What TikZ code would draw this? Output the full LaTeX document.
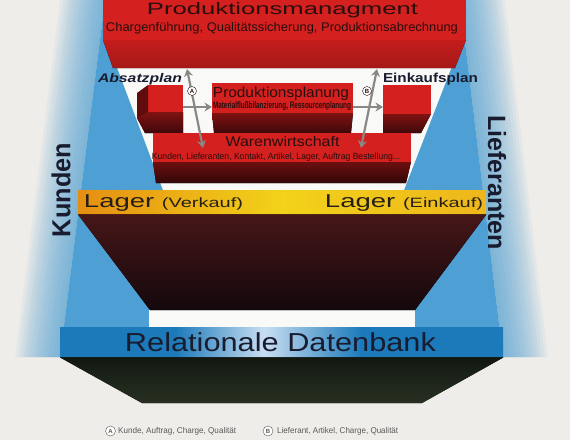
\documentclass[tikz,border=0pt]{standalone}
\usepackage{fontspec}
\setmainfont{Liberation Sans}
\usepackage{graphicx}
\usepackage{xcolor}
\usetikzlibrary{arrows.meta}
\definecolor{PaperGrey}{RGB}{239,237,233}
\definecolor{InnerWhite}{RGB}{249,249,248}
\definecolor{FrameBlue}{RGB}{78,160,212}
\definecolor{BaseBlue}{RGB}{28,122,186}
\definecolor{BaseGlow}{RGB}{200,222,242}
\definecolor{BoxRed}{RGB}{212,32,30}
\definecolor{BoxInk}{RGB}{40,14,14}
\definecolor{SideDark}{RGB}{96,12,12}
\definecolor{UnderTop}{RGB}{128,18,18}
\definecolor{UnderBottom}{RGB}{62,8,10}
\definecolor{PitTop}{RGB}{70,22,24}
\definecolor{PitDark}{RGB}{20,8,12}
\definecolor{FloorTop}{RGB}{18,24,16}
\definecolor{FloorDark}{RGB}{40,48,34}
\definecolor{LagerOrange}{RGB}{230,142,18}
\definecolor{LagerYellow}{RGB}{242,210,26}
\definecolor{LagerAmber}{RGB}{238,182,28}
\definecolor{InkNavy}{RGB}{24,28,46}
\definecolor{LagerInk}{RGB}{36,30,24}
\definecolor{ArrowGrey}{RGB}{136,136,132}
\definecolor{LegendGrey}{RGB}{90,90,90}
\pgfdeclarehorizontalshading{dbglow}{100bp}{color(0bp)=(BaseBlue); color(38bp)=(BaseBlue); color(48bp)=(BaseGlow); color(59bp)=(BaseBlue); color(100bp)=(BaseBlue)}
\newcommand{\fitw}[2]{\resizebox{#1}{\height}{#2}}

\begin{document}
\begin{tikzpicture}[x=1pt, y=-1pt]
    \tikzset{
        redface/.style={rectangle, fill=BoxRed, anchor=north west, inner sep=0pt, outer sep=0pt},
        under/.style={top color=UnderTop, bottom color=UnderBottom},
        txt/.style={anchor=base, inner sep=0pt, text=BoxInk},
        flow/.style={draw=ArrowGrey, line width=2.2pt, -{Stealth[length=7.5pt, width=9pt]}},
        twoway/.style={draw=ArrowGrey, line width=2.2pt,
            {Stealth[length=7.5pt, width=9pt]}-{Stealth[length=7.5pt, width=9pt]}},
        ringmark/.style={circle, draw=#1, fill=white, inner sep=0pt, minimum size=9pt,
            font=\fontsize{6}{6}\selectfont\bfseries, text=#1}
    }
    \useasboundingbox (0,0) rectangle (570,440);
    \fill[PaperGrey] (0,0) rectangle (570,440);
    \foreach \d in {3,6,...,45} {
        \fill[FrameBlue, fill opacity=0.07] (105,0) -- (105-\d,0) -- (60-\d,357) -- (60,357) -- cycle;
        \fill[FrameBlue, fill opacity=0.07] (460,0) -- (460+\d,0) -- (503+\d,357) -- (503,357) -- cycle;
    }
    \fill[FrameBlue] (105,0) -- (460,0) -- (503,357) -- (60,357) -- cycle;
    \fill[InnerWhite] (103,30) -- (466,30) -- (404,190) -- (163,190) -- cycle;
    \fill[InnerWhite] (149,309) rectangle (415,327);

    \node[redface, minimum width=363pt, minimum height=40pt] (pm) at (103,0) {};
    \fill[top color=BoxRed!92!black, bottom color=BoxRed!78!black]
        (pm.south west) -- (pm.south east) -- (455,68) -- (113,68) -- cycle;
    \node[redface, minimum width=35pt, minimum height=27pt] (lcube) at (148,85) {};
    \fill[SideDark] (137,93) -- (lcube.north west) -- (lcube.south west) -- (137,118) -- cycle;
    \fill[under] (137,118) -- (lcube.south west) -- (lcube.south east) -- (183,133) -- (145,133) -- cycle;
    \node[redface, minimum width=48pt, minimum height=29pt] (rcube) at (383,85) {};
    \fill[under] (rcube.south west) -- (rcube.south east) -- (421,133) -- (383,133) -- cycle;
    \node[redface, minimum width=141pt, minimum height=30pt] (pp) at (212,83) {};
    \fill[under] (pp.south west) -- (pp.south east) -- (351,133) -- (214,133) -- cycle;
    \node[redface, minimum width=258pt, minimum height=29pt] (ww) at (153,133) {};
    \fill[top color=UnderTop!85!black, bottom color=UnderBottom!80!black]
        (ww.south west) -- (ww.south east) -- (406,183) -- (156,183) -- cycle;

    \node[rectangle, anchor=north west, inner sep=0pt, minimum width=408pt, minimum height=24pt,
        left color=LagerOrange, right color=LagerAmber, middle color=LagerYellow] (lager) at (78,190) {};
    \fill[top color=PitTop, bottom color=PitDark]
        (lager.south west) -- (lager.south east) -- (415,310) -- (150,310) -- cycle;
    \node[rectangle, anchor=north west, inner sep=0pt, minimum width=443pt, minimum height=30pt,
        shade, shading=dbglow] (rdb) at (60,327) {};
    \fill[top color=FloorTop, bottom color=FloorDark]
        (rdb.south west) -- (rdb.south east) -- (422,403) -- (142,403) -- cycle;

    \node[txt, font=\fontsize{16.5}{18}\selectfont] (pmt) at (282.5,14) {\fitw{271pt}{Produktionsmanagment}};
    \node[txt, font=\fontsize{12.5}{14}\selectfont] (pms) at (282,31.5)
        {\fitw{352pt}{Chargenführung, Qualitätssicherung, Produktionsabrechnung}};
    \node[txt, font=\fontsize{14.5}{16}\selectfont] (ppt) at (281,97) {\fitw{136pt}{Produktionsplanung}};
    \node[txt, font=\fontsize{9.5}{10}\selectfont\bfseries] (pps) at (282,108.5)
        {\fitw{138pt}{Materialflußbilanzierung, Ressourcenplanung}};
    \node[txt, font=\fontsize{14}{16}\selectfont] (wwt) at (282.5,146.5) {\fitw{114pt}{Warenwirtschaft}};
    \node[txt, font=\fontsize{9}{10}\selectfont] (wws) at (276,159.5)
        {\fitw{248pt}{Kunden, Lieferanten, Kontakt, Artikel, Lager, Auftrag Bestellung...}};
    \node[txt, text=InkNavy, font=\fontsize{12.5}{14}\selectfont\bfseries\itshape] (absatz) at (140,82)
        {\fitw{84pt}{Absatzplan}};
    \node[txt, text=InkNavy, font=\fontsize{13}{14}\selectfont\bfseries] (einkauf) at (430.5,82.5)
        {\fitw{95pt}{Einkaufsplan}};
    \node[txt, text=LagerInk] (lagv) at (163.5,207.3)
        {\fitw{159pt}{\fontsize{18.6}{20}\selectfont Lager \fontsize{13.5}{15}\selectfont(Verkauf)}};
    \node[txt, text=LagerInk] (lage) at (404,207.3)
        {\fitw{158pt}{\fontsize{18.6}{20}\selectfont Lager \fontsize{13.5}{15}\selectfont(Einkauf)}};
    \node[txt, text=InkNavy, font=\fontsize{26}{28}\selectfont] (rdbt) at (280.5,351)
        {\fitw{311pt}{Relationale Datenbank}};
    \node[rotate=90, inner sep=0pt, text=InkNavy, font=\fontsize{26}{28}\selectfont\bfseries] (kunden)
        at (61,190) {\fitw{94pt}{Kunden}};
    \node[rotate=-90, inner sep=0pt, text=InkNavy, font=\fontsize{25}{27}\selectfont\bfseries] (liefer)
        at (497,182.5) {\fitw{135pt}{Lieferanten}};

    \coordinate (aup) at (187,69);
    \coordinate (adown) at (203,148);
    \coordinate (bup) at (377,69);
    \coordinate (bdown) at (361,148);
    \draw[twoway] (aup) -- (adown);
    \draw[twoway] (bup) -- (bdown);
    \draw[flow] ([yshift=-8.5pt]lcube.east) -- ([yshift=-9pt]pp.west);
    \draw[flow] ([yshift=-9pt]pp.east) -- ([yshift=-7.5pt]rcube.west);
    \node[ringmark=BoxInk] (ma) at (192,91) {A};
    \node[ringmark=BoxInk] (mb) at (367,91) {B};

    \node[ringmark=LegendGrey, minimum size=10pt] (la) at (110.5,431) {A};
    \node[anchor=west, inner sep=0pt, text=LegendGrey, font=\fontsize{8.4}{9}\selectfont] (lat)
        at (118,431) {\fitw{118pt}{Kunde, Auftrag, Charge, Qualität}};
    \node[ringmark=LegendGrey, minimum size=10pt] (lb) at (268,431) {B};
    \node[anchor=west, inner sep=0pt, text=LegendGrey, font=\fontsize{8.4}{9}\selectfont] (lbt)
        at (277,431) {\fitw{121pt}{Lieferant, Artikel, Charge, Qualität}};
\end{tikzpicture}
\end{document}
